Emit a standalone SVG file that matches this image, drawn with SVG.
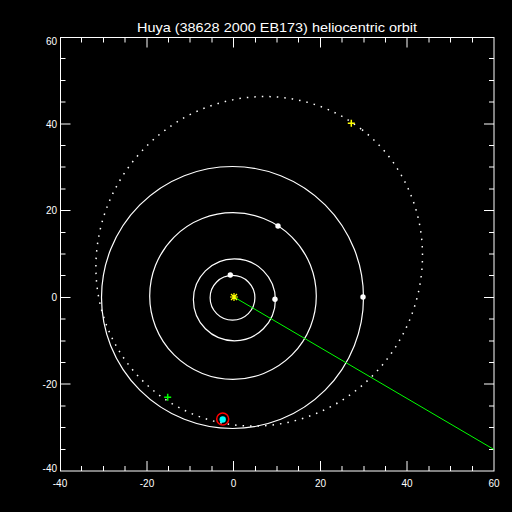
<svg xmlns="http://www.w3.org/2000/svg" width="512" height="512" viewBox="0 0 512 512">
<style>
.ax{fill:none;stroke:#fff;stroke-width:1}
.lbl{font-family:"Liberation Sans",Arial,sans-serif;font-size:10px;fill:#fff}
.orb{fill:none;stroke:#fff;stroke-width:1.2}
.pl{fill:#fff}
</style>
<rect x="0" y="0" width="512" height="512" fill="#000"/>
<text x="277" y="32" text-anchor="middle" font-family="Liberation Sans, Arial, sans-serif" font-size="13" fill="#fff" textLength="280" lengthAdjust="spacingAndGlyphs">Huya (38628 2000 EB173) heliocentric orbit</text>
<g id="axes">
<rect class="ax" x="60.5" y="37.5" width="433.5" height="433.5"/>
<path class="ax" d="M81.5 471v-5M103.5 471v-5M125 471v-5M147 471v-10M168.5 471v-5M190 471v-5M212 471v-5M233.5 471v-10M255.5 471v-5M277 471v-5M298.5 471v-5M320.5 471v-10M342 471v-5M364 471v-5M385.5 471v-5M407 471v-10M429 471v-5M450.5 471v-5M472.5 471v-5
M81.5 37.5v5M103.5 37.5v5M125 37.5v5M147 37.5v10M168.5 37.5v5M190 37.5v5M212 37.5v5M233.5 37.5v10M255.5 37.5v5M277 37.5v5M298.5 37.5v5M320.5 37.5v10M342 37.5v5M364 37.5v5M385.5 37.5v5M407 37.5v10M429 37.5v5M450.5 37.5v5M472.5 37.5v5
M60.5 449.5h5M60.5 427.5h5M60.5 406h5M60.5 384h10M60.5 362.5h5M60.5 341h5M60.5 319h5M60.5 297.5h10M60.5 275.5h5M60.5 254h5M60.5 232.5h5M60.5 210.5h10M60.5 189h5M60.5 167h5M60.5 145.5h5M60.5 124h10M60.5 102h5M60.5 80.5h5M60.5 58.5h5
M494 449.5h-5M494 427.5h-5M494 406h-5M494 384h-10M494 362.5h-5M494 341h-5M494 319h-5M494 297.5h-10M494 275.5h-5M494 254h-5M494 232.5h-5M494 210.5h-10M494 189h-5M494 167h-5M494 145.5h-5M494 124h-10M494 102h-5M494 80.5h-5M494 58.5h-5"/>
<g class="lbl" text-anchor="middle">
<text x="60" y="487">-40</text>
<text x="147" y="487">-20</text>
<text x="233.5" y="487">0</text>
<text x="320.5" y="487">20</text>
<text x="407" y="487">40</text>
<text x="494" y="487">60</text>
</g>
<g class="lbl" text-anchor="end">
<text x="57" y="471.5">-40</text>
<text x="57" y="387.5">-20</text>
<text x="57" y="301">0</text>
<text x="57" y="214">20</text>
<text x="57" y="127.5">40</text>
<text x="57" y="44.5">60</text>
</g>
</g>
<g id="planet-orbits">
<circle class="orb" cx="232.5" cy="297.8" r="22.4"/>
<circle class="orb" cx="234.4" cy="299.8" r="41"/>
<circle class="orb" cx="233" cy="296" r="83.3"/>
<circle class="orb" cx="232.5" cy="297.5" r="131"/>
</g>
<g id="huya-orbit">
<ellipse cx="259.2" cy="261.3" rx="167" ry="161" transform="rotate(-52 259.2 261.3)" fill="none" stroke="#fff" stroke-width="1.5" stroke-dasharray="1.5 6"/>
</g>
<g id="connectors">
<line x1="234" y1="297" x2="494" y2="449.5" stroke="#00ff00" stroke-width="1"/>
</g>
<g id="planets">
<circle class="pl" cx="230.3" cy="275" r="2.7"/>
<circle class="pl" cx="275" cy="299.3" r="2.7"/>
<circle class="pl" cx="278" cy="226" r="2.7"/>
<circle class="pl" cx="363" cy="297" r="2.7"/>
</g>
<g id="sun" stroke="#ffff00" stroke-width="1.2">
<path d="M230 297h8M234 293v8M231 294l6 6M237 294l-6 6"/>
</g>
<g id="aphelion" stroke="#ffff00" stroke-width="1.5">
<path d="M347.8 123.3h7M351.3 119.8v7"/>
</g>
<g id="perihelion" stroke="#00ff00" stroke-width="1.5">
<path d="M164.2 397.3h7M167.7 393.8v7"/>
</g>
<g id="huya">
<circle cx="222.7" cy="419" r="6" fill="none" stroke="#ff0000" stroke-width="1.5"/>
<circle cx="222.7" cy="419.5" r="3.2" fill="#00ffff"/>
</g>
</svg>
